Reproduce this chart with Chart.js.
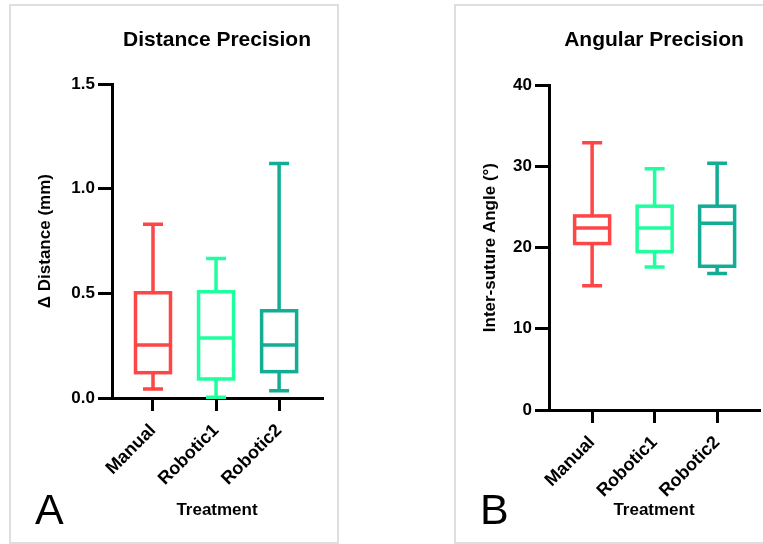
<!DOCTYPE html>
<html>
<head>
<meta charset="utf-8">
<script src="https://cdn.jsdelivr.net/npm/chart.js@4/dist/chart.umd.min.js"></script>
<style>
  html, body { margin: 0; padding: 0; background: #fff; }
  body { width: 763px; height: 544px; position: relative; overflow: hidden; font-family: "Liberation Sans", Arial, sans-serif; }
  .panel { position: absolute; border: 2px solid #dedede; box-sizing: border-box; }
  #panelA { left: 9px; top: 4px; width: 330px; height: 540px; }
  #panelB { left: 454px; top: 4px; width: 330px; height: 540px; }
  .cv { position: absolute; top: 0; }
  #cA { left: 0; }
  #cB { left: 380px; }
  .letter { position: absolute; font-size: 43px; line-height: 1; color: #000; }
</style>
</head>
<body>
<div class="panel" id="panelA"></div>
<div class="panel" id="panelB"></div>
<div class="cv" id="cA" style="width:340px;height:544px"><canvas id="chartA"></canvas></div>
<div class="cv" id="cB" style="width:383px;height:544px"><canvas id="chartB"></canvas></div>
<div class="letter" style="left:35px;top:488px">A</div>
<div class="letter" style="left:480px;top:488px">B</div>
<script>
// ---- data ----
const categories = ['Manual', 'Robotic1', 'Robotic2'];
const boxColors = ['#fd4646', '#1eff9e', '#13ad95'];

const distMin    = [0.043, 0.003, 0.035];
const distQ1     = [0.121, 0.091, 0.126];
const distMedian = [0.253, 0.287, 0.253];
const distQ3     = [0.503, 0.508, 0.417];
const distMax    = [0.831, 0.667, 1.121];

const angleMin    = [15.3, 17.6, 16.8];
const angleQ1     = [20.5, 19.5, 17.7];
const angleMedian = [22.4, 22.4, 23.0];
const angleQ3     = [23.9, 25.1, 25.1];
const angleMax    = [32.9, 29.7, 30.4];

const distTicks  = [0, 0.5, 1.0, 1.5];
const angleTicks = [0, 10, 20, 30, 40];

Chart.defaults.font.family = '"Liberation Sans", Arial, sans-serif';
Chart.defaults.color = '#000';

function makeBoxPlugin(mins, q1s, meds, q3s, maxs, colors) {
  return {
    id: 'boxplot',
    afterDatasetsDraw(chart) {
      const ctx = chart.ctx;
      const x = chart.scales.x, y = chart.scales.y;
      const boxHalf = 17.5, capHalf = 10;
      ctx.save();
      ctx.lineWidth = 3.5;
      ctx.lineCap = 'butt';
      ctx.lineJoin = 'miter';
      categories.forEach((c, i) => {
        const cx = x.getPixelForValue(i);
        const pMin = y.getPixelForValue(mins[i]);
        const pQ1 = y.getPixelForValue(q1s[i]);
        const pMed = y.getPixelForValue(meds[i]);
        const pQ3 = y.getPixelForValue(q3s[i]);
        const pMax = y.getPixelForValue(maxs[i]);
        ctx.strokeStyle = colors[i];
        ctx.beginPath();
        ctx.moveTo(cx, pQ3); ctx.lineTo(cx, pMax);
        ctx.moveTo(cx - capHalf, pMax); ctx.lineTo(cx + capHalf, pMax);
        ctx.moveTo(cx, pQ1); ctx.lineTo(cx, pMin);
        ctx.moveTo(cx - capHalf, pMin); ctx.lineTo(cx + capHalf, pMin);
        ctx.moveTo(cx - boxHalf, pMed); ctx.lineTo(cx + boxHalf, pMed);
        ctx.stroke();
        ctx.strokeRect(cx - boxHalf, pQ3, 2 * boxHalf, pQ1 - pQ3);
      });
      ctx.restore();
    }
  };
}

function makeChart(id, cfg) {
  return new Chart(document.getElementById(id), {
    type: 'scatter',
    data: { datasets: [{ data: [], showLine: false }] },
    options: {
      responsive: true,
      maintainAspectRatio: false,
      animation: false,
      devicePixelRatio: 1,
      layout: { padding: cfg.padding },
      plugins: {
        legend: { display: false },
        tooltip: { enabled: false },
        title: {
          display: true,
          text: cfg.title,
          fullSize: false,
          color: '#000',
          font: { size: 21, weight: 'bold' },
          padding: { top: 28, bottom: cfg.titleBottom }
        }
      },
      scales: {
        x: {
          type: 'linear',
          min: cfg.xMin,
          max: cfg.xMax,
          afterFit: s => { s.height = cfg.xHeight; },
          afterBuildTicks: s => { s.ticks = categories.map((c, i) => ({ value: i })); },
          ticks: {
            autoSkip: false,
            minRotation: 45,
            maxRotation: 45,
            padding: 9,
            color: '#000',
            font: { size: 18, weight: 'bold' },
            callback: (v, i) => categories[i]
          },
          grid: { drawOnChartArea: false, drawTicks: true, tickLength: 13, color: '#000', lineWidth: 3 },
          border: { display: true, color: '#000', width: 3 },
          title: { display: true, text: 'Treatment', color: '#000', font: { size: 17, weight: 'bold' }, padding: { top: 0, bottom: 3 } }
        },
        y: {
          type: 'linear',
          min: cfg.yTicks[0],
          max: cfg.yTicks[cfg.yTicks.length - 1],
          afterFit: s => { s.width = cfg.yWidth; },
          afterBuildTicks: s => { s.ticks = cfg.yTicks.map(v => ({ value: v })); },
          ticks: {
            padding: 3,
            color: '#000',
            font: { size: 17, weight: 'bold' },
            callback: v => cfg.tickFmt(v)
          },
          grid: { drawOnChartArea: false, drawTicks: true, tickLength: 14, color: '#000', lineWidth: 3 },
          border: { display: true, color: '#000', width: 3 },
          title: { display: true, text: cfg.yTitle, color: '#000', font: { size: 17, weight: 'bold' }, padding: { top: 0, bottom: 0 } }
        }
      }
    },
    plugins: [cfg.plugin]
  });
}

makeChart('chartA', {
  title: 'Distance Precision',
  yTitle: '\u0394 Distance (mm)',
  padding: { left: 35, right: 18, top: 0, bottom: 20 },
  titleBottom: 31,
  xHeight: 126,
  yWidth: 77,
  xMin: -0.65, xMax: 2.68,
  yTicks: distTicks,
  tickFmt: v => Number(v).toFixed(1),
  plugin: makeBoxPlugin(distMin, distQ1, distMedian, distQ3, distMax, boxColors)
});

makeChart('chartB', {
  title: 'Angular Precision',
  yTitle: 'Inter-suture Angle (\u00b0)',
  padding: { left: 100, right: 4, top: 0, bottom: 20 },
  titleBottom: 32,
  xHeight: 114,
  yWidth: 69,
  xMin: -0.69, xMax: 2.67,
  yTicks: angleTicks,
  tickFmt: v => String(v),
  plugin: makeBoxPlugin(angleMin, angleQ1, angleMedian, angleQ3, angleMax, boxColors)
});
</script>
</body>
</html>
